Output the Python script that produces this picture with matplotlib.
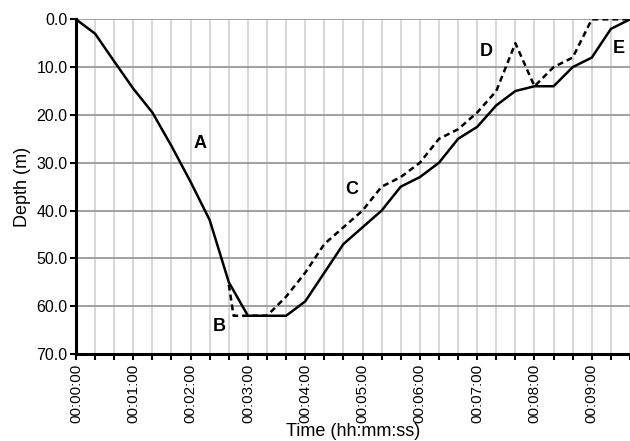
import matplotlib
matplotlib.use("Agg")
import matplotlib.pyplot as plt
from matplotlib.ticker import MultipleLocator, FuncFormatter

plt.rcParams['font.family'] = ['Liberation Sans', 'DejaVu Sans']

# Solid profile (time in seconds, depth in m)
solid_t = [0, 20, 40, 60, 80, 100, 120, 140, 160, 180, 200, 220, 240, 260, 280,
           300, 320, 340, 360, 380, 400, 420, 440, 460, 480, 500, 520, 540, 560, 580]
solid_d = [0, 3, 8.8, 14.5, 19.5, 26.5, 34, 42, 55, 62, 62, 62, 59, 53, 47,
           43.5, 40, 35, 33, 30, 25, 22.5, 18, 15, 14, 14, 10, 8, 2, 0]

# Dashed profile
dash_t = [160, 165, 200, 220, 240, 260, 280, 300, 320, 340, 360, 380, 400, 420,
          440, 460, 480, 500, 520, 540, 560, 580]
dash_d = [55.5, 62, 62, 58, 53, 47, 43.5, 40, 35, 33, 30, 25, 23, 19.5,
          15, 5, 14, 10, 8, 0, 0, 0]

labels = ["A", "B", "C", "D", "E"]
label_t = [130, 150, 289, 430, 568]
label_d = [26, 64.3, 35.5, 6.8, 6.0]

fig = plt.figure(figsize=(6.3, 4.41), dpi=100)
ax = fig.add_axes([0.1206, 0.1973, 0.8794, 0.7589])

ax.plot(solid_t, solid_d, color='black', lw=1.8, solid_joinstyle='miter', zorder=4)
ax.plot(dash_t, dash_d, color='black', lw=1.8, dashes=(2.4, 1.6), zorder=3)

for lab, t, d in zip(labels, label_t, label_d):
    ax.text(t, d, lab, fontsize=13, fontweight='bold', ha='center', va='center', zorder=5)

ax.set_xlim(0, 580)
ax.set_ylim(70, 0)

ax.xaxis.set_major_locator(MultipleLocator(60))
ax.xaxis.set_minor_locator(MultipleLocator(20))
ax.yaxis.set_major_locator(MultipleLocator(10))

def hms(v, pos):
    v = int(round(v))
    return "%02d:%02d:%02d" % (v // 3600, (v % 3600) // 60, v % 60)

ax.xaxis.set_major_formatter(FuncFormatter(hms))
ax.yaxis.set_major_formatter(FuncFormatter(lambda v, p: "%.1f" % v))

ax.grid(True, which='both', axis='x', color='#d4d4d4', lw=1.3, zorder=0)
ax.grid(True, which='major', axis='y', color='#a0a0a0', lw=1.4, zorder=0)
ax.set_axisbelow(True)

for s in ['top', 'right']:
    ax.spines[s].set_visible(False)
for s in ['left', 'bottom']:
    ax.spines[s].set_linewidth(2.2)
    ax.spines[s].set_color('black')

ax.tick_params(axis='x', which='both', direction='out', length=4, width=1.5,
               labelsize=11, labelrotation=90, pad=3)
ax.tick_params(axis='y', which='major', direction='out', length=4, width=1.5,
               labelsize=11.5, pad=2)

ax.set_xlabel("Time (hh:mm:ss)", fontsize=13, labelpad=0)
ax.set_ylabel("Depth (m)", fontsize=13, labelpad=4)

fig.savefig("out.png", dpi=100)
